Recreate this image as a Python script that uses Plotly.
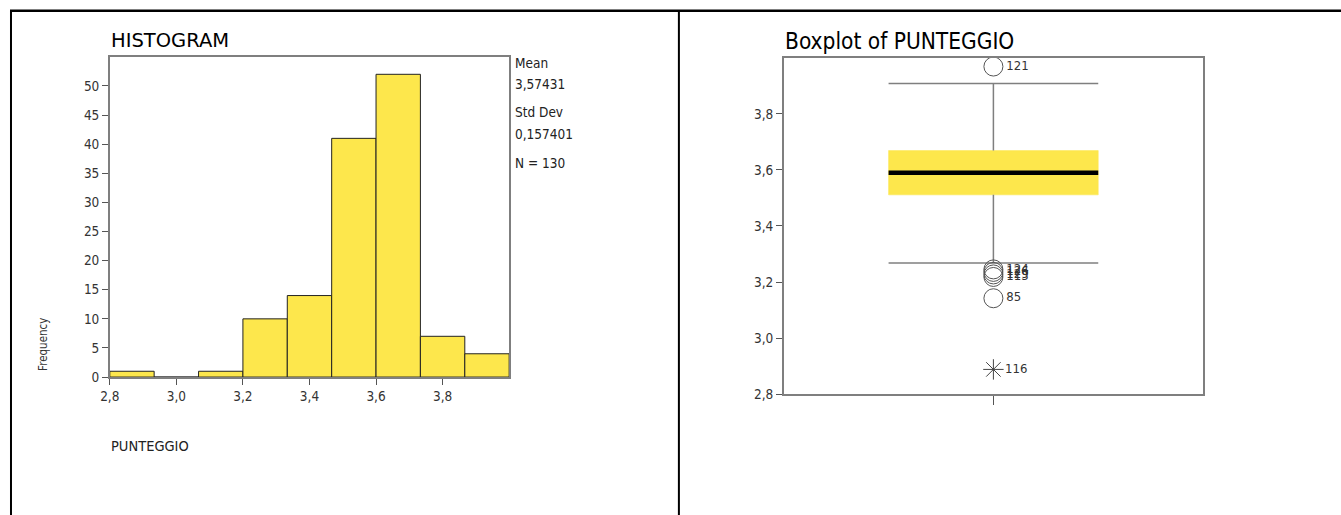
import plotly.graph_objects as go

# ---------------- data ----------------
bin_edges = [2.8, 2.9333, 3.0667, 3.2, 3.3333, 3.4667, 3.6, 3.7333, 3.8667, 4.0]
bin_counts = [1, 0, 1, 10, 14, 41, 52, 7, 4]
hist_yticks = [0, 5, 10, 15, 20, 25, 30, 35, 40, 45, 50]
hist_xticks = [2.8, 3.0, 3.2, 3.4, 3.6, 3.8]
stats_lines = ["Mean", "3,57431", "Std Dev", "0,157401", "N = 130"]

box_q1 = 3.511
box_median = 3.590
box_q3 = 3.669
whisker_low = 3.268
whisker_high = 3.908
outlier_values = [3.969, 3.245, 3.236, 3.227, 3.218, 3.142]
outlier_labels = ["121", "124", "126", "129", "113", "85"]
extreme_values = [2.888]
extreme_labels = ["116"]
box_yticks = [2.8, 3.0, 3.2, 3.4, 3.6, 3.8]

# ---------------- layout helpers ----------------
W, H = 1341, 523
# calibration of the photographed picture against page pixels
SX, OX = 0.9941, 9.05
SY, OY = 0.984, 0.2


def fx(p):
    return max(((p - OX) / SX) / W, 0.0)


def fy(p):
    return 1 - ((p - OY) / SY) / H


YELLOW = "#FDE74C"
GRAY = "#7f7f7f"
FONT = "DejaVu Sans Condensed, DejaVu Sans, sans-serif"
FONT_WIDE = "DejaVu Sans, sans-serif"

centers = [(bin_edges[i] + bin_edges[i + 1]) / 2 for i in range(len(bin_counts))]
widths = [bin_edges[i + 1] - bin_edges[i] for i in range(len(bin_counts))]

fig = go.Figure()

fig.add_trace(go.Bar(
    x=centers, y=bin_counts, width=widths,
    marker=dict(color=YELLOW, line=dict(color="#222222", width=1)),
    xaxis="x", yaxis="y", showlegend=False, hoverinfo="x+y",
))

# box drawn from its statistics
half = 0.5
fig.add_trace(go.Scatter(
    x=[-half, half, half, -half, -half],
    y=[box_q1, box_q1, box_q3, box_q3, box_q1],
    fill="toself", fillcolor=YELLOW, mode="lines",
    line=dict(color=YELLOW, width=0.5),
    xaxis="x2", yaxis="y2", showlegend=False, hoverinfo="skip",
))
# whiskers
fig.add_trace(go.Scatter(
    x=[0, 0, None, 0, 0, None, -half, half, None, -half, half],
    y=[whisker_low, box_q1, None, box_q3, whisker_high, None,
       whisker_low, whisker_low, None, whisker_high, whisker_high],
    mode="lines", line=dict(color=GRAY, width=1.5),
    xaxis="x2", yaxis="y2", showlegend=False, hoverinfo="skip",
))
# median
fig.add_trace(go.Scatter(
    x=[-half, half], y=[box_median, box_median],
    mode="lines", line=dict(color="black", width=4.5),
    xaxis="x2", yaxis="y2", showlegend=False, hoverinfo="skip",
))
# outliers
fig.add_trace(go.Scatter(
    x=[0] * len(outlier_values), y=outlier_values,
    mode="markers+text", text=outlier_labels, textposition="middle right",
    textfont=dict(family=FONT, size=13, color="#333333"),
    marker=dict(symbol="circle-open", size=19, color="#555555", line=dict(width=1)),
    xaxis="x2", yaxis="y2", showlegend=False,
))
fig.add_trace(go.Scatter(
    x=[0] * len(extreme_values), y=extreme_values,
    mode="markers+text", text=extreme_labels, textposition="middle right",
    textfont=dict(family=FONT, size=13, color="#333333"),
    marker=dict(symbol="asterisk-open", size=17, color="#444444", line=dict(width=1)),
    xaxis="x2", yaxis="y2", showlegend=False,
))

axis_common = dict(
    showline=True, linecolor=GRAY, linewidth=1.5, mirror=True,
    showgrid=False, zeroline=False, ticks="outside", ticklen=6,
    tickcolor="#555555", tickfont=dict(family=FONT, size=13.5, color="#333333"),
)

fig.update_layout(
    width=W, height=H,
    margin=dict(l=0, r=0, t=0, b=0),
    paper_bgcolor="white", plot_bgcolor="white",
    separators=",.",
    showlegend=False,
    xaxis=dict(domain=[fx(109), fx(509)], range=[2.8, 4.0], tickvals=hist_xticks,
               tickformat=".1f", anchor="y", **axis_common),
    yaxis=dict(domain=[fy(377), fy(57)], range=[0, 55], tickvals=hist_yticks,
               anchor="x", **axis_common),
    xaxis2=dict(domain=[fx(784), fx(1204)], range=[-1, 1], tickvals=[0],
                ticktext=[""], anchor="y2",
                **{**axis_common, "ticklen": 9}),
    yaxis2=dict(domain=[fy(394), fy(58)], range=[2.8, 4.0], tickvals=box_yticks,
                tickformat=".1f", anchor="x2", **axis_common),
)

annos = [
    dict(text="HISTOGRAM", x=fx(108), y=fy(41), xanchor="left", yanchor="middle",
         font=dict(family=FONT_WIDE, size=19.5, color="black")),
    dict(text="Boxplot of PUNTEGGIO", x=fx(783), y=fy(41), xanchor="left", yanchor="middle",
         font=dict(family=FONT, size=22.5, color="black")),
    dict(text="Frequency", x=fx(42), y=fy(344), xanchor="center", yanchor="middle",
         textangle=-90, font=dict(family=FONT, size=11.5, color="#333333")),
    dict(text="PUNTEGGIO", x=fx(108), y=fy(446), xanchor="left", yanchor="middle",
         font=dict(family=FONT, size=14.5, color="#222222")),
]
stat_y = [63, 84, 112, 134, 163]
for t, yy in zip(stats_lines, stat_y):
    annos.append(dict(text=t, x=fx(513), y=fy(yy), xanchor="left", yanchor="middle",
                      font=dict(family=FONT, size=13.5, color="#222222")))
for a in annos:
    a.update(xref="paper", yref="paper", showarrow=False)
fig.update_layout(annotations=annos)

fig.update_layout(shapes=[
    dict(type="line", xref="paper", yref="paper", x0=0, x1=1, y0=fy(11), y1=fy(11),
         line=dict(color="black", width=2.5)),
    dict(type="line", xref="paper", yref="paper", x0=1 / W, x1=1 / W, y0=fy(11), y1=0,
         line=dict(color="black", width=2)),
    dict(type="line", xref="paper", yref="paper", x0=fx(679), x1=fx(679), y0=fy(11), y1=0,
         line=dict(color="black", width=2)),
])

fig.write_html(
    "out.html",
    config={"displayModeBar": False},
    post_script="document.body.style.margin='0';document.body.style.overflow='hidden';",
)
